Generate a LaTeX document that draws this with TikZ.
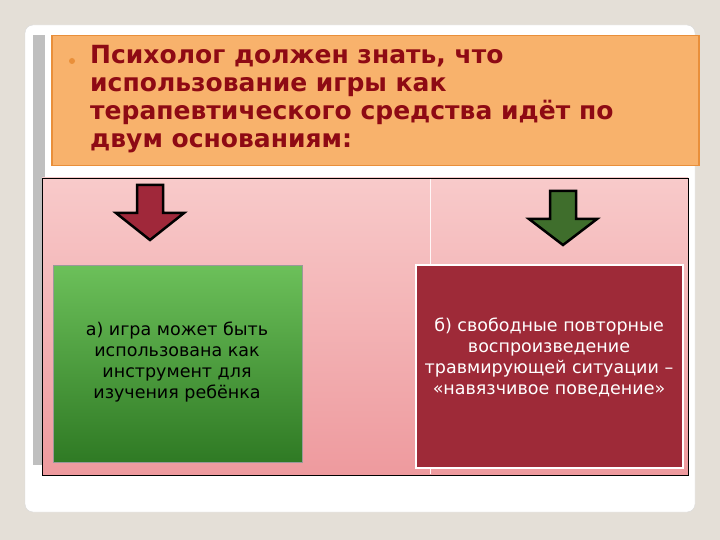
\documentclass[tikz,border=0pt]{standalone}
\usepackage{fontspec}
\setmainfont{DejaVu Sans}
\begin{document}
\begin{tikzpicture}[x=1pt,y=-1pt,
  title/.style={font=\bfseries\fontsize{25}{28}\selectfont, text=titlered, anchor=north west, align=left, inner sep=0},
  boxtxt/.style={font=\fontsize{17.5}{21}\selectfont, align=center},
  arrowshape/.style={draw=black, line width=2.5pt, line join=miter}]
\definecolor{bg}{HTML}{E4DFD7}
\definecolor{titlered}{HTML}{8E0A14}
\definecolor{orangefill}{HTML}{F8B26C}
\definecolor{orangeedge}{HTML}{E98F3A}
\definecolor{pinktop}{HTML}{F8CACA}
\definecolor{pinkbot}{HTML}{EE9A9E}
\definecolor{darkred}{HTML}{9E2A38}
\definecolor{arrowred}{HTML}{A0283A}
\definecolor{arrowgreen}{HTML}{3F6E2C}
\definecolor{greentop}{HTML}{6CC05A}
\definecolor{greenbot}{HTML}{2F7A24}
\fill[bg] (0,0) rectangle (720,540);
\useasboundingbox (0,0) rectangle (720,540);
\fill[white, draw=black!15, rounded corners=8pt] (25,25) rectangle (695,512);
\fill[black!25] (33,35) rectangle (45,465);
% pink panel
\shade[top color=pinktop, bottom color=pinkbot, draw=black] (42,178) rectangle (688,475);
\draw[white!85!pink, line width=1pt] (430,179) -- (430,474);
% orange title
\node[fill=orangefill, draw=orangeedge, line width=1.5pt, minimum width=647pt, minimum height=130pt, anchor=north west, inner sep=0] (head) at (51,35) {};
\fill[orangeedge] (72,61) circle (3pt);
\node[title] (t) at (90,45) {Психолог должен знать, что\\использование игры как\\терапевтического средства идёт по\\двум основаниям:};
% arrows
\draw[arrowshape, fill=arrowred] (137,185) -- (163,185) -- (163,213) -- (184,213) -- (150,240) -- (116,213) -- (137,213) -- cycle;
\draw[arrowshape, fill=arrowgreen] (550,191) -- (576,191) -- (576,219) -- (597,219) -- (563,245) -- (529,219) -- (550,219) -- cycle;
% boxes
\shade[top color=greentop, bottom color=greenbot, draw=black!40] (53,265) rectangle (302,462);
\node[boxtxt, text=black] (ga) at (177,362) {а) игра может быть\\использована как\\инструмент для\\изучения ребёнка};
\fill[darkred, draw=white, line width=2.5pt] (416,265) rectangle (683,468);
\node[boxtxt, text=white] (rb) at (549,357) {б) свободные повторные\\воспроизведение\\травмирующей ситуации –\\«навязчивое поведение»};
\end{tikzpicture}
\end{document}
